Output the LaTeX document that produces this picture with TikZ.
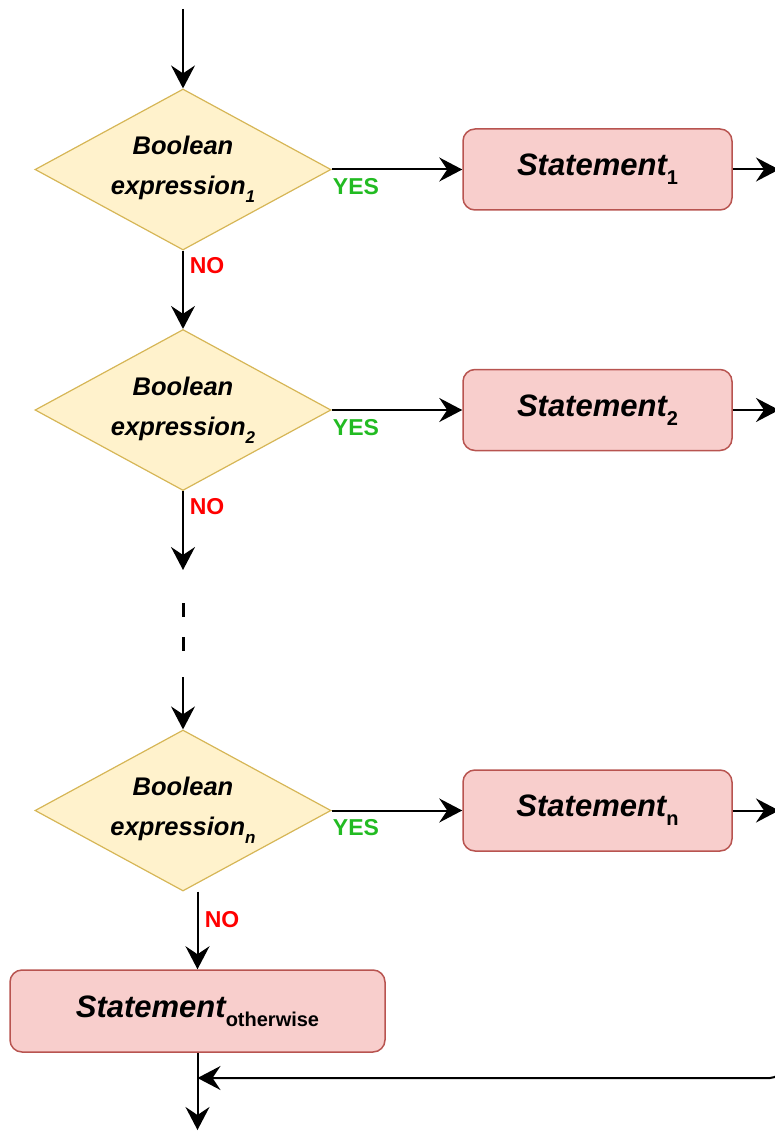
\documentclass[tikz,border=0pt]{standalone}
\usepackage{fontspec}
\setmainfont{Liberation Sans}
\usetikzlibrary{shapes.geometric,arrows.meta}
\definecolor{condfill}{HTML}{FFF2CC}
\definecolor{conddraw}{HTML}{D6B656}
\definecolor{stmtfill}{HTML}{F8CECC}
\definecolor{stmtdraw}{HTML}{B85450}
\definecolor{yesgreen}{HTML}{22BB22}
\definecolor{nored}{HTML}{FF0000}
% lowered subscripts for conditions and statements
\newcommand\condsub[1]{\raisebox{-0.3em}{\fontsize{17}{17}\selectfont #1}}
\newcommand\stmtsub[1]{\raisebox{-0.3em}{\fontsize{20}{20}\selectfont\upshape #1}}
\begin{document}
\begin{tikzpicture}[x=1pt,y=-1pt,
  cond/.style={diamond, aspect=1.85, minimum width=296pt, minimum height=161pt,
    inner sep=0pt, fill=condfill, draw=conddraw, line width=1.2pt, align=center,
    font=\fontsize{25.5}{40}\selectfont\bfseries\itshape},
  stmt/.style={rectangle, rounded corners=12pt, fill=stmtfill, draw=stmtdraw,
    line width=1.5pt, inner sep=0pt,
    font=\fontsize{31}{31}\selectfont\bfseries\itshape},
  flow/.style={line width=2pt, -{Stealth[length=23pt,width=24pt,inset=8pt]}},
  yeslbl/.style={text=yesgreen, inner sep=0pt, font=\fontsize{23}{23}\selectfont\bfseries},
  nolbl/.style={text=nored, inner sep=0pt, font=\fontsize{23}{23}\selectfont\bfseries}]
\useasboundingbox (0,0) rectangle (775,1131);
\clip (0,0) rectangle (775,1131);

% conditions
\node[cond] (d1) at (183,169.5) {Boolean\\expression\condsub{1}};
\node[cond] (d2) at (183,410) {Boolean\\expression\condsub{2}};
\node[cond] (dn) at (183,810.5) {Boolean\\expression\condsub{n}};

% statements
\node[stmt, minimum width=269pt, minimum height=81pt] (s1) at (597.5,169.5) {Statement\stmtsub{1}};
\node[stmt, minimum width=269pt, minimum height=81pt] (s2) at (597.5,410) {Statement\stmtsub{2}};
\node[stmt, minimum width=269pt, minimum height=81pt] (sn) at (597.5,810.5) {Statement\stmtsub{n}};
\node[stmt, minimum width=375pt, minimum height=82pt] (so) at (197.5,1011) {Statement\stmtsub{otherwise}};

% free ends of connectors
\coordinate (entry) at (183,9);
\coordinate (out1) at (779,169.5);
\coordinate (out2) at (779,410);
\coordinate (outn) at (779,810.5);
\coordinate (gapend) at (183,570);
\coordinate (dashA) at (183,603);
\coordinate (dashB) at (183,651);
\coordinate (resume) at (183,677);
\coordinate (ret) at (782,1030);
\coordinate (merge) at (197.5,1078);
\coordinate (exit) at (197.5,1130);

% connectors
\draw[flow] (entry) -- (d1.north);
\draw[flow] (d1.east) -- (s1.west);
\draw[flow] (s1.east) -- (out1);
\draw[flow] (d1.south) -- (d2.north);
\draw[flow] (d2.east) -- (s2.west);
\draw[flow] (s2.east) -- (out2);
\draw[flow] (d2.south) -- (gapend);
\draw[line width=3pt, dash pattern=on 14pt off 20pt] (dashA) -- (dashB);
\draw[flow] (resume) -- (dn.north);
\draw[flow] (dn.east) -- (sn.west);
\draw[flow] (sn.east) -- (outn);
\draw[flow] (so.north |- dn.south) -- (so.north);
\draw[flow] (so.south) -- (exit);
\draw[flow, rounded corners=12pt] (ret) |- (merge);

% branch labels
\node[yeslbl] (y1) at (356,187) {YES};
\node[yeslbl] (y2) at (356,428) {YES};
\node[yeslbl] (yn) at (356,828) {YES};
\node[nolbl] (n1) at (207,266) {NO};
\node[nolbl] (n2) at (207,507) {NO};
\node[nolbl] (nn) at (222,920) {NO};
\end{tikzpicture}
\end{document}
